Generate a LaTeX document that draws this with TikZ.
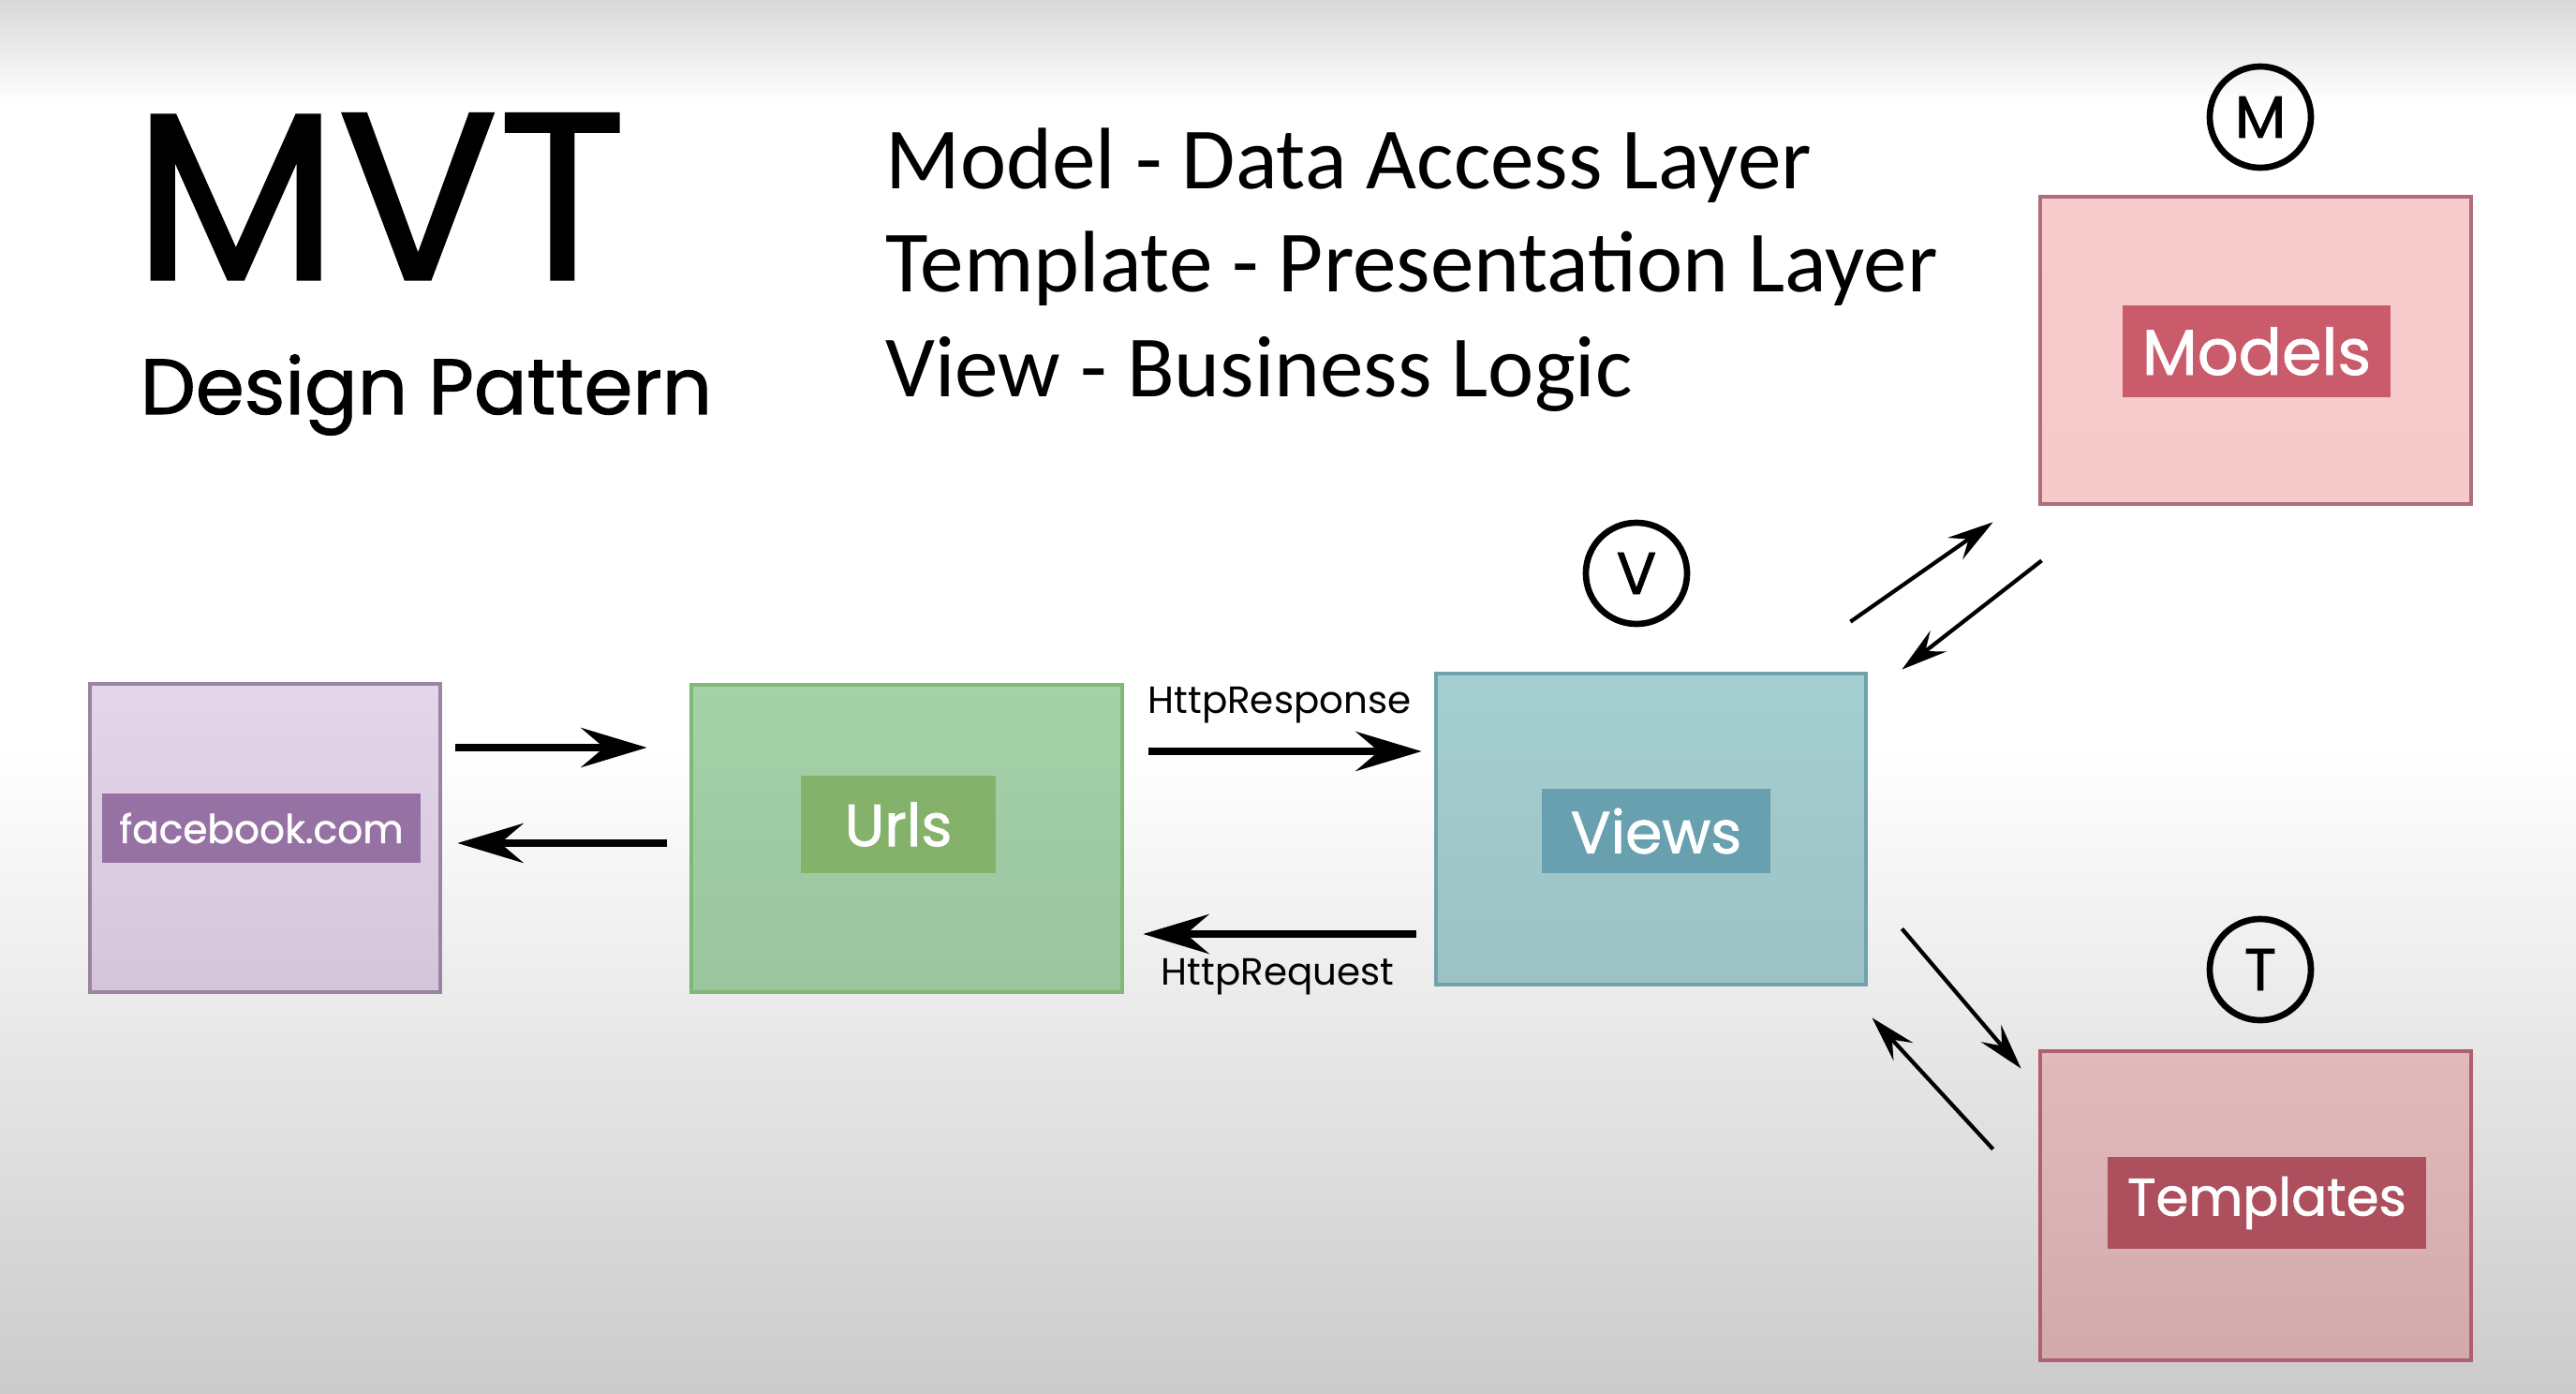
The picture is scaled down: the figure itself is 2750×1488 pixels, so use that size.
\documentclass[tikz,border=0pt]{standalone}
\usepackage{fontspec}
\usetikzlibrary{arrows.meta,calc}
\newfontfamily\pop{Poppins}
\newfontfamily\popm{Poppins}[FakeBold=1.2]
\newfontfamily\carl{Carlito}
\definecolor{bgtop}{HTML}{D8D8D8}
\definecolor{bgbot}{HTML}{CBCBCB}
\definecolor{fbtop}{HTML}{E4D6EA}
\definecolor{fbbot}{HTML}{D5C5DA}
\definecolor{fbdraw}{HTML}{9A84A2}
\definecolor{fblab}{HTML}{9672A4}
\definecolor{urtop}{HTML}{A3D2A8}
\definecolor{urbot}{HTML}{9BC59F}
\definecolor{urdraw}{HTML}{7FB877}
\definecolor{urlab}{HTML}{84B26A}
\definecolor{vwtop}{HTML}{A4CED1}
\definecolor{vwbot}{HTML}{9CC2C5}
\definecolor{vwdraw}{HTML}{6FA3AC}
\definecolor{vwlab}{HTML}{68A0B0}
\definecolor{mdtop}{HTML}{F8CBCC}
\definecolor{mdbot}{HTML}{F6CACB}
\definecolor{mddraw}{HTML}{B06D7A}
\definecolor{mdlab}{HTML}{C95B6B}
\definecolor{tptop}{HTML}{E2B9BB}
\definecolor{tpbot}{HTML}{D2AAAD}
\definecolor{tpdraw}{HTML}{B06070}
\definecolor{tplab}{HTML}{AD4F5D}
\tikzset{
  box/.style={rectangle, draw, line width=1.3pt, inner sep=0pt},
  lab/.style={rectangle, inner sep=0pt, text=white},
  circ/.style={circle, draw=black, line width=1.9pt, minimum size=1.08cm, inner sep=0pt,
    font={\popm\fontsize{18pt}{20pt}\selectfont}},
  harr/.style={line width=2pt, -{Stealth[length=20pt,width=12pt,inset=7pt]}},
  darr/.style={line width=1.2pt, -{Stealth[length=14pt,width=8pt,inset=5pt]}},
  httplab/.style={anchor=base, inner sep=0pt, font={\pop\fontsize{11.5pt}{13pt}\selectfont}},
  desc/.style={anchor=base west, inner sep=0pt, font={\carl\fontsize{26.5pt}{30pt}\selectfont}}
}
\begin{document}
\begin{tikzpicture}[x=0.01cm,y=-0.01cm]
\useasboundingbox (0,0) rectangle (2750,1488);
% background
\fill[white] (0,0) rectangle (2750,1488);
\shade[top color=bgtop, bottom color=white] (0,0) rectangle (2750,110);
\shade[top color=white, bottom color=bgbot] (0,800) rectangle (2750,1488);

% titles
\node[anchor=base west, inner sep=0pt, font={\popm\fontsize{72pt}{80pt}\selectfont}] (title) at (142,298) {MVT};
\node[anchor=base west, inner sep=0pt, font={\popm\fontsize{23.8pt}{28pt}\selectfont}] (subtitle) at (149,442) {Design Pattern};

\node[desc] (d1) at (945,202) {Model - Data Access Layer};
\node[desc] (d2) at (945,312) {Template - Presentation Layer};
\node[desc] (d3) at (945,423) {View - Business Logic};

% boxes
\node[box, draw=fbdraw, top color=fbtop, bottom color=fbbot, minimum width=3.74cm, minimum height=3.29cm] (fb) at (283,894.5) {};
\node[lab, fill=fblab, minimum width=3.40cm, minimum height=0.74cm, font={\popm\fontsize{12pt}{14pt}\selectfont}] (fbl) at (279,884) {facebook.com};

\node[box, draw=urdraw, top color=urtop, bottom color=urbot, minimum width=4.60cm, minimum height=3.28cm] (urls) at (968,895) {};
\node[lab, fill=urlab, minimum width=2.08cm, minimum height=1.04cm, font={\popm\fontsize{18pt}{20pt}\selectfont}] (urlsl) at (959,880) {Urls};

\node[box, draw=vwdraw, top color=vwtop, bottom color=vwbot, minimum width=4.59cm, minimum height=3.32cm] (views) at (1762.5,885) {};
\node[lab, fill=vwlab, minimum width=2.43cm, minimum height=0.89cm, font={\popm\fontsize{18pt}{20pt}\selectfont}] (viewsl) at (1768,887) {Views};

\node[box, draw=mddraw, top color=mdtop, bottom color=mdbot, minimum width=4.60cm, minimum height=3.28cm] (models) at (2408,374) {};
\node[lab, fill=mdlab, minimum width=2.86cm, minimum height=0.98cm, font={\popm\fontsize{19.5pt}{22pt}\selectfont}] (modelsl) at (2409,375) {Models};

\node[box, draw=tpdraw, top color=tptop, bottom color=tpbot, minimum width=4.60cm, minimum height=3.30cm] (templates) at (2408,1287) {};
\node[lab, fill=tplab, minimum width=3.39cm, minimum height=0.97cm, font={\popm\fontsize{16pt}{19pt}\selectfont}] (templatesl) at (2420,1284) {Templates};

% circles
\node[circ] (mc) at (2413,125) {M};
\node[circ] (vc) at (1747,612) {V};
\node[circ] (tc) at (2413,1035) {T};

% horizontal arrows
\draw[harr] ($(fb.east)+(14,-96.5)$) -- ($(urls.west)+(-45,-97)$);
\draw[harr] ($(urls.west)+(-24,5)$) -- ($(fb.east)+(16,5.5)$);
\draw[harr] ($(urls.east)+(26,-93)$) -- ($(views.west)+(-13,-83)$);
\draw[harr] ($(views.west)+(-19,112)$) -- ($(urls.east)+(20,102)$);
\node[httplab] (resp) at (1366,761) {HttpResponse};
\node[httplab] (req) at (1364,1051) {HttpRequest};

% diagonal arrows
\draw[darr] ($(views.north east)+(-19,-53)$) -- ($(models.south west)+(-48,17)$);
\draw[darr] ($(models.south west)+(4,58)$) -- ($(views.north east)+(36,-2)$);
\draw[darr] ($(views.south east)+(36,-62)$) -- ($(templates.north west)+(-18,21)$);
\draw[darr] ($(templates.north west)+(-48,107)$) -- ($(views.south east)+(4,33)$);
\end{tikzpicture}
\end{document}
